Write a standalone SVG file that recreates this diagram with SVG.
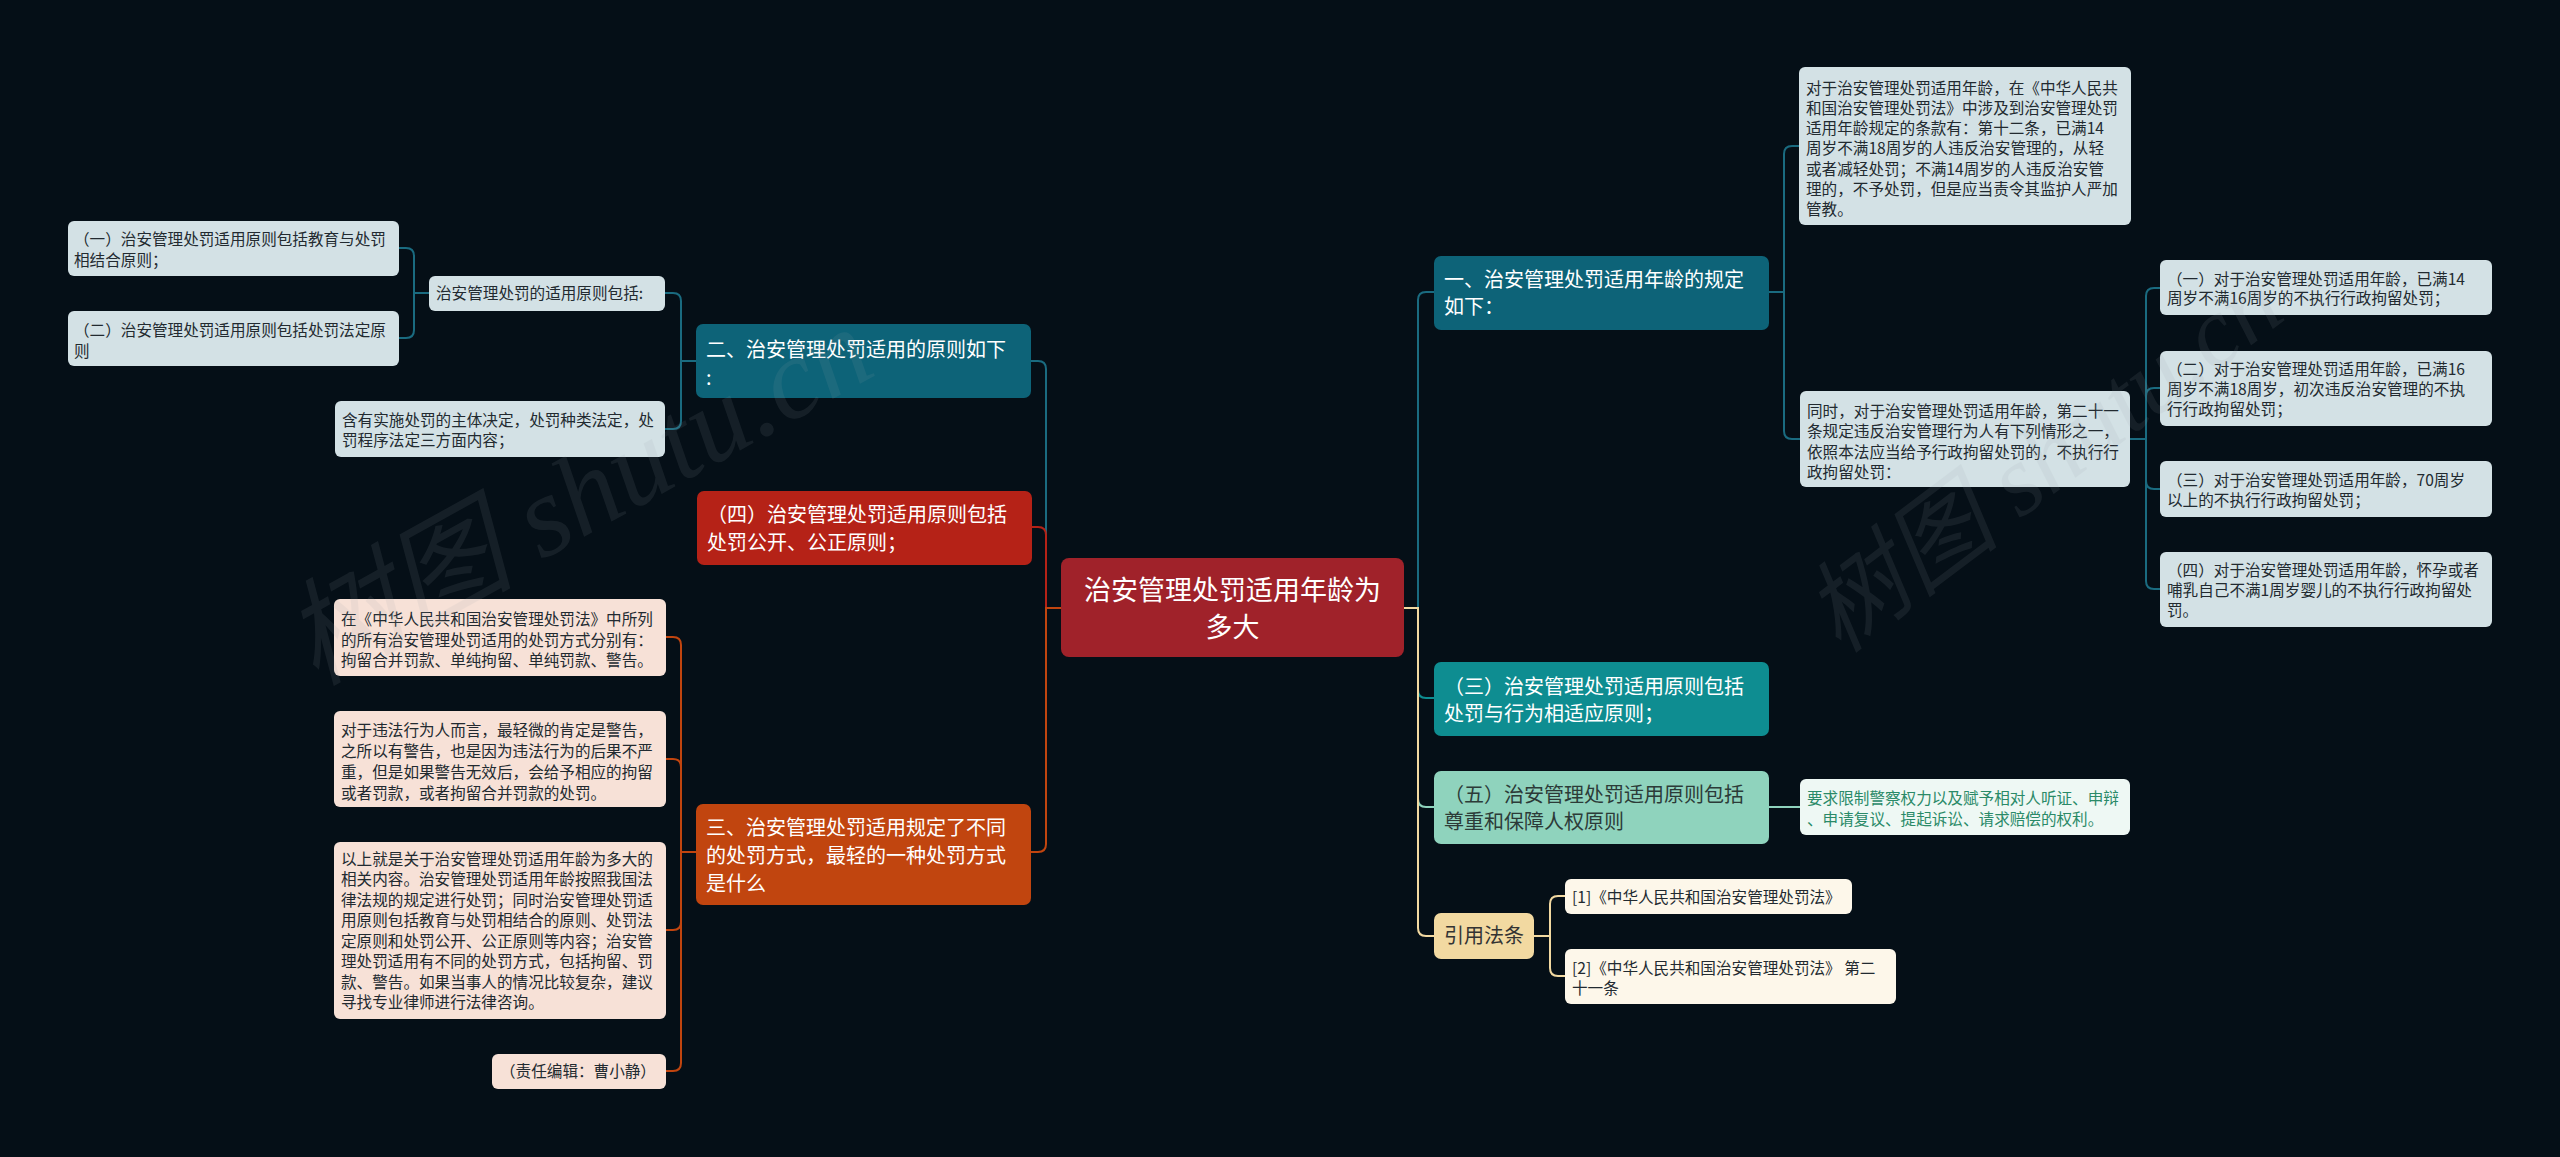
<svg xmlns="http://www.w3.org/2000/svg" width="2560" height="1157" viewBox="0 0 2560 1157">
<style>
text{font-family:"Noto Sans CJK SC","Noto Sans",sans-serif}
.t{font-size:15.6px;fill:#222a30}
.tw{font-size:20px;fill:#ffffff}
.td{font-size:20px;fill:#2c3b38}
.tg{font-size:15.6px;fill:#2a8a68}
.root{font-size:27px;fill:#ffffff}
.lb{fill:#d3e1e5}
.lp{fill:#f7e1d7}
.ly{fill:#fdf7ea}
.c{fill:none;stroke-width:2}
.blue{stroke:#1a6b80}.red{stroke:#b52217}.org{stroke:#c1450f}.teal{stroke:#0e8d91}.mint{stroke:#8fd3bd}.beige{stroke:#f2d9a1}
.wm{font-family:"Liberation Serif","Noto Sans CJK SC",serif;font-style:italic;fill:#9aa3aa;opacity:0.11}
</style>
<rect width="2560" height="1157" fill="#050f17"/>

<g id="connectors">
<path class="c blue" d="M1061,608 H1046 V369 Q1046,361 1038,361 H1031"/>
<path class="c red" d="M1061,608 H1046 V535 Q1046,527 1038,527 H1032"/>
<path class="c org" d="M1061,608 H1046 V844 Q1046,852 1038,852 H1031"/>
<path class="c blue" d="M1404,608 H1418 V300 Q1418,292 1426,292 H1434"/>
<path class="c teal" d="M1404,608 H1418 V690 Q1418,698 1426,698 H1434"/>
<path class="c mint" d="M1404,608 H1418 V799 Q1418,807 1426,807 H1434"/>
<path class="c beige" d="M1404,608 H1418 V928 Q1418,936 1426,936 H1434"/>
<path class="c blue" d="M696,361 H681 V301 Q681,293 673,293 H665"/>
<path class="c blue" d="M696,361 H681 V421 Q681,429 673,429 H665"/>
<path class="c blue" d="M429,293 H414 V256 Q414,248 406,248 H399"/>
<path class="c blue" d="M429,293 H414 V330 Q414,338 406,338 H399"/>
<path class="c org" d="M696,852 H681 V645 Q681,637 673,637 H666"/>
<path class="c org" d="M696,852 H681 V767 Q681,759 673,759 H666"/>
<path class="c org" d="M696,852 H681 V922 Q681,930 673,930 H666"/>
<path class="c org" d="M696,852 H681 V1063 Q681,1071 673,1071 H666"/>
<path class="c blue" d="M1769,292 H1784 V154 Q1784,146 1792,146 H1799"/>
<path class="c blue" d="M1769,292 H1784 V431 Q1784,439 1792,439 H1800"/>
<path class="c blue" d="M2130,439 H2146 V296 Q2146,288 2154,288 H2160"/>
<path class="c blue" d="M2130,439 H2146 V396 Q2146,388 2154,388 H2160"/>
<path class="c blue" d="M2130,439 H2146 V481 Q2146,489 2154,489 H2160"/>
<path class="c blue" d="M2130,439 H2146 V581 Q2146,589 2154,589 H2160"/>
<path class="c mint" d="M1769,807 H1800"/>
<path class="c beige" d="M1534,936 H1550 V904 Q1550,896 1558,896 H1565"/>
<path class="c beige" d="M1534,936 H1550 V968 Q1550,976 1558,976 H1565"/>
</g>

<g id="root">
<rect x="1061" y="558" width="343" height="99" rx="8" fill="#a0222a"/>
<text class="root" x="1232.5" y="599.5" text-anchor="middle">治安管理处罚适用年龄为</text>
<text class="root" x="1232.5" y="636.5" text-anchor="middle">多大</text>
</g>

<g id="n-er">
<rect x="696" y="324" width="335" height="74" rx="7" fill="#0d6378"/>
<text class="tw" x="706" y="357">二、治安管理处罚适用的原则如下</text>
<text class="tw" x="706" y="385">:</text>
</g>
<g id="n-si">
<rect x="697" y="491" width="335" height="74" rx="7" fill="#b52217"/>
<text class="tw" x="707" y="522">（四）治安管理处罚适用原则包括</text>
<text class="tw" x="707" y="550">处罚公开、公正原则；</text>
</g>
<g id="n-san">
<rect x="696" y="804" width="335" height="101" rx="7" fill="#c1450f"/>
<text class="tw" x="706" y="835">三、治安管理处罚适用规定了不同</text>
<text class="tw" x="706" y="863">的处罚方式，最轻的一种处罚方式</text>
<text class="tw" x="706" y="891">是什么</text>
</g>

<g id="n-baokuo">
<rect class="lb" x="429" y="276" width="236" height="35" rx="6"/>
<text class="t" x="436" y="299">治安管理处罚的适用原则包括:</text>
</g>
<g id="n-yi-l">
<rect class="lb" x="68" y="221" width="331" height="55" rx="6"/>
<text class="t" x="74" y="244.5">（一）治安管理处罚适用原则包括教育与处罚</text>
<text class="t" x="74" y="266">相结合原则；</text>
</g>
<g id="n-er-l">
<rect class="lb" x="68" y="311" width="331" height="55" rx="6"/>
<text class="t" x="74" y="335.5">（二）治安管理处罚适用原则包括处罚法定原</text>
<text class="t" x="74" y="356.5">则</text>
</g>
<g id="n-hanyou">
<rect class="lb" x="335" y="401" width="330" height="56" rx="6"/>
<text class="t" x="342" y="425.5">含有实施处罚的主体决定，处罚种类法定，处</text>
<text class="t" x="342" y="446">罚程序法定三方面内容；</text>
</g>

<g id="n-san-1">
<rect class="lp" x="334" y="599" width="332" height="77" rx="6"/>
<text class="t" x="341" y="624.5">在《中华人民共和国治安管理处罚法》中所列</text>
<text class="t" x="341" y="645.5">的所有治安管理处罚适用的处罚方式分别有：</text>
<text class="t" x="341" y="666">拘留合并罚款、单纯拘留、单纯罚款、警告。</text>
</g>
<g id="n-san-2">
<rect class="lp" x="334" y="711" width="332" height="96" rx="6"/>
<text class="t" x="341" y="735.5">对于违法行为人而言，最轻微的肯定是警告，</text>
<text class="t" x="341" y="756.5">之所以有警告，也是因为违法行为的后果不严</text>
<text class="t" x="341" y="777.5">重，但是如果警告无效后，会给予相应的拘留</text>
<text class="t" x="341" y="798.5">或者罚款，或者拘留合并罚款的处罚。</text>
</g>
<g id="n-san-3">
<rect class="lp" x="334" y="842" width="332" height="177" rx="6"/>
<text class="t" x="341" y="864.5">以上就是关于治安管理处罚适用年龄为多大的</text>
<text class="t" x="341" y="885">相关内容。治安管理处罚适用年龄按照我国法</text>
<text class="t" x="341" y="905.5">律法规的规定进行处罚；同时治安管理处罚适</text>
<text class="t" x="341" y="926">用原则包括教育与处罚相结合的原则、处罚法</text>
<text class="t" x="341" y="946.5">定原则和处罚公开、公正原则等内容；治安管</text>
<text class="t" x="341" y="967">理处罚适用有不同的处罚方式，包括拘留、罚</text>
<text class="t" x="341" y="987.5">款、警告。如果当事人的情况比较复杂，建议</text>
<text class="t" x="341" y="1008">寻找专业律师进行法律咨询。</text>
</g>
<g id="n-san-4">
<rect class="lp" x="492" y="1054" width="174" height="35" rx="6"/>
<text class="t" x="500" y="1077">（责任编辑：曹小静）</text>
</g>

<g id="n-yi">
<rect x="1434" y="256" width="335" height="74" rx="7" fill="#0d6378"/>
<text class="tw" x="1444" y="287">一、治安管理处罚适用年龄的规定</text>
<text class="tw" x="1444" y="314">如下：</text>
</g>
<g id="n-yi-1">
<rect class="lb" x="1799" y="67" width="332" height="158" rx="6"/>
<text class="t" x="1806" y="93.5">对于治安管理处罚适用年龄，在《中华人民共</text>
<text class="t" x="1806" y="113.8">和国治安管理处罚法》中涉及到治安管理处罚</text>
<text class="t" x="1806" y="134.1">适用年龄规定的条款有：第十二条，已满14</text>
<text class="t" x="1806" y="154.4">周岁不满18周岁的人违反治安管理的，从轻</text>
<text class="t" x="1806" y="174.7">或者减轻处罚；不满14周岁的人违反治安管</text>
<text class="t" x="1806" y="195">理的，不予处罚，但是应当责令其监护人严加</text>
<text class="t" x="1806" y="215.3">管教。</text>
</g>
<g id="n-yi-2">
<rect class="lb" x="1800" y="391" width="330" height="96" rx="6"/>
<text class="t" x="1807" y="417">同时，对于治安管理处罚适用年龄，第二十一</text>
<text class="t" x="1807" y="437.3">条规定违反治安管理行为人有下列情形之一，</text>
<text class="t" x="1807" y="457.6">依照本法应当给予行政拘留处罚的，不执行行</text>
<text class="t" x="1807" y="477.9">政拘留处罚：</text>
</g>
<g id="n-age-1">
<rect class="lb" x="2160" y="260" width="332" height="55" rx="6"/>
<text class="t" x="2167" y="284.5">（一）对于治安管理处罚适用年龄，已满14</text>
<text class="t" x="2167" y="304">周岁不满16周岁的不执行行政拘留处罚；</text>
</g>
<g id="n-age-2">
<rect class="lb" x="2160" y="351" width="332" height="75" rx="6"/>
<text class="t" x="2167" y="374.5">（二）对于治安管理处罚适用年龄，已满16</text>
<text class="t" x="2167" y="394.5">周岁不满18周岁，初次违反治安管理的不执</text>
<text class="t" x="2167" y="414.5">行行政拘留处罚；</text>
</g>
<g id="n-age-3">
<rect class="lb" x="2160" y="461" width="332" height="56" rx="6"/>
<text class="t" x="2167" y="485.5">（三）对于治安管理处罚适用年龄，70周岁</text>
<text class="t" x="2167" y="505.5">以上的不执行行政拘留处罚；</text>
</g>
<g id="n-age-4">
<rect class="lb" x="2160" y="552" width="332" height="75" rx="6"/>
<text class="t" x="2167" y="575.5">（四）对于治安管理处罚适用年龄，怀孕或者</text>
<text class="t" x="2167" y="595.5">哺乳自己不满1周岁婴儿的不执行行政拘留处</text>
<text class="t" x="2167" y="615.5">罚。</text>
</g>

<g id="n-san-r">
<rect x="1434" y="662" width="335" height="74" rx="7" fill="#0e8d91"/>
<text class="tw" x="1444" y="694">（三）治安管理处罚适用原则包括</text>
<text class="tw" x="1444" y="721">处罚与行为相适应原则；</text>
</g>
<g id="n-wu">
<rect x="1434" y="771" width="335" height="73" rx="7" fill="#8fd3bd"/>
<text class="td" x="1444" y="802">（五）治安管理处罚适用原则包括</text>
<text class="td" x="1444" y="829">尊重和保障人权原则</text>
</g>
<g id="n-wu-1">
<rect x="1800" y="779" width="330" height="56" rx="6" fill="#eef8f4"/>
<text class="tg" x="1807" y="803.5">要求限制警察权力以及赋予相对人听证、申辩</text>
<text class="tg" x="1807" y="824.5">、申请复议、提起诉讼、请求赔偿的权利。</text>
</g>
<g id="n-ref">
<rect x="1434" y="913" width="100" height="46" rx="7" fill="#f2d9a1"/>
<text class="td" x="1444" y="943" style="fill:#333">引用法条</text>
</g>
<g id="n-ref-1">
<rect class="ly" x="1565" y="879" width="287" height="35" rx="6"/>
<text class="t" x="1572" y="902.5">[1]《中华人民共和国治安管理处罚法》</text>
</g>
<g id="n-ref-2">
<rect class="ly" x="1565" y="949" width="331" height="55" rx="6"/>
<text class="t" x="1572" y="973.5">[2]《中华人民共和国治安管理处罚法》 第二</text>
<text class="t" x="1572" y="993.5">十一条</text>
</g>

<g id="watermarks">
<text class="wm" x="0" y="0" font-size="115" transform="translate(315,686) rotate(-29)">树图 shutu.cn</text>
<text class="wm" x="0" y="0" font-size="100" transform="translate(1840,655) rotate(-37)">树图 shutu.cn</text>
</g>
</svg>
